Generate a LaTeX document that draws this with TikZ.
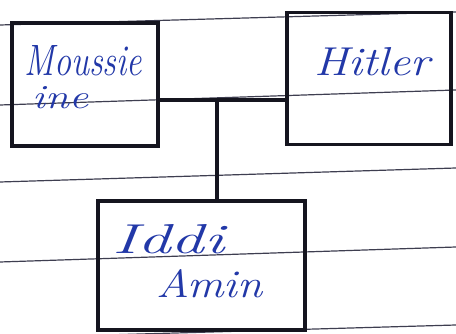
\documentclass[tikz,border=0pt]{standalone}
\usepackage{fontspec}
\definecolor{ink}{HTML}{15151F}
\definecolor{pen}{HTML}{2238A8}
\definecolor{rule}{HTML}{3E3E50}
\begin{document}
\begin{tikzpicture}[x=1pt,y=1pt,
  box/.style={draw=ink,line width=3.4pt,rectangle,inner sep=0pt},
  hand/.style={text=pen,font=\fontsize{36}{38}\selectfont\itshape,inner sep=0pt,anchor=west},
  paperline/.style={draw=rule,line width=1.2pt},
  link/.style={draw=ink,line width=3.4pt}]
\useasboundingbox[fill=white] (0,0) rectangle (456,334);
% ruled paper lines
\draw[paperline] (0,309) -- (456,322);
\draw[paperline] (0,229) -- (456,244);
\draw[paperline] (0,152) -- (456,166);
\draw[paperline] (0,72) -- (456,87);
\draw[paperline] (0,-4) -- (456,9);
% boxes
\node[box,minimum width=146pt,minimum height=123pt] (A) at (85,249.5) {};
\node[box,minimum width=164pt,minimum height=132pt] (B) at (369,255.5) {};
\node[box,minimum width=207pt,minimum height=129pt] (C) at (201.5,68.5) {};
% texts
\node[hand] (ta1) at (24,273) {\resizebox{118pt}{30pt}{Moussie}};
\node[hand] (ta2) at (32,236) {\resizebox{56pt}{22pt}{ine}};
\node[hand] (tb) at (314,272) {\resizebox{116pt}{28pt}{Hitler}};
\node[hand] (tc1) at (112,95) {\resizebox{112pt}{29pt}{Iddi}};
\node[hand] (tc2) at (156,50) {\resizebox{106pt}{28pt}{Amin}};
% connectors
\coordinate (j) at (217,234);
\draw[link] (A.east |- j) -- (B.west |- j);
\draw[link] (j) -- (C.north -| j);
\end{tikzpicture}
\end{document}
